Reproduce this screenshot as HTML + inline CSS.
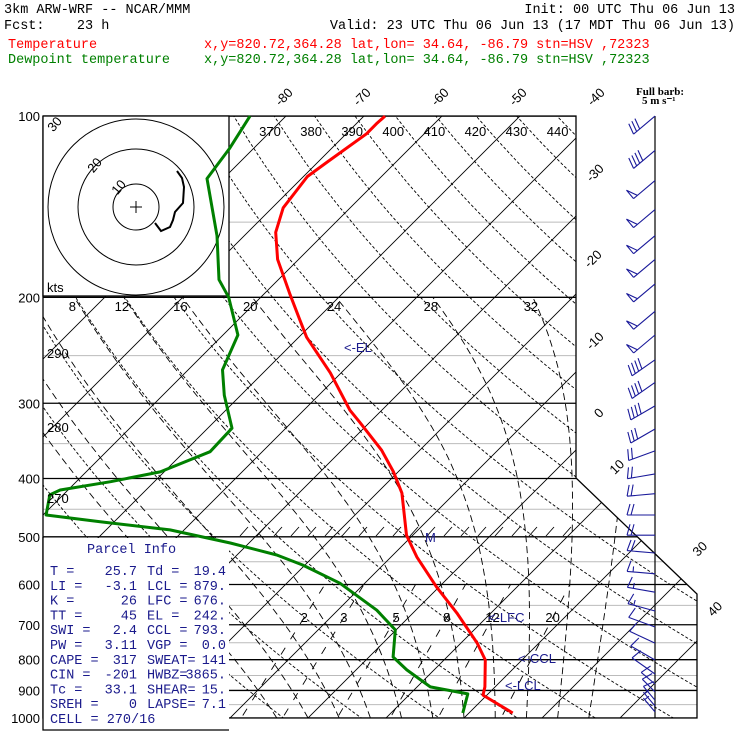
<!DOCTYPE html>
<html><head><meta charset="utf-8"><style>
html,body{margin:0;padding:0;background:#fff;}
svg{display:block;}
.hd{font-family:"Liberation Mono",monospace;font-size:13.5px;}
.lb{font-family:"Liberation Sans",sans-serif;font-size:13px;fill:#000;}
.pi{font-family:"Liberation Mono",monospace;font-size:13.5px;fill:#1a1a8c;}
</style></head><body>
<svg id="chart" width="740" height="740" viewBox="0 0 740 740" xmlns="http://www.w3.org/2000/svg">
<defs><clipPath id="plotClip"><polygon points="43,116 576,116 576,478 697,594 697,718 43,718"/></clipPath>
<clipPath id="insetClip"><rect x="42" y="115" width="187" height="181"/></clipPath></defs>
<g>
<text class="hd" x="4" y="13">3km ARW-WRF -- NCAR/MMM</text>
<text class="hd" x="735" y="13" text-anchor="end">Init: 00 UTC Thu 06 Jun 13</text>
<text class="hd" x="4" y="29" xml:space="preserve">Fcst:    23 h</text>
<text class="hd" x="735" y="29" text-anchor="end">Valid: 23 UTC Thu 06 Jun 13 (17 MDT Thu 06 Jun 13)</text>
<text class="hd" x="8" y="48" fill="#ff0000">Temperature</text>
<text class="hd" x="204" y="48" fill="#ff0000">x,y=820.72,364.28  lat,lon= 34.64, -86.79  stn=HSV ,72323</text>
<text class="hd" x="8" y="63" fill="#008000">Dewpoint temperature</text>
<text class="hd" x="204" y="63" fill="#008000">x,y=820.72,364.28  lat,lon= 34.64, -86.79  stn=HSV ,72323</text>
<text x="636" y="95" font-family="Liberation Serif,serif" font-weight="bold" font-size="11">Full barb:</text>
<text x="642" y="104" font-family="Liberation Serif,serif" font-weight="bold" font-size="11">5 m s⁻¹</text>
</g>
<g id="grid" clip-path="url(#plotClip)"></g>
<g id="fg"></g>
</svg>
<script>
const tempP=[100,103,107,119,126,142,156,173,197,218,233,267,308,323,359,390,423,497,540,606,669,751,801,888,916,981];
const tempT=[-67.3,-67.4,-67.4,-68.8,-69.5,-68.6,-66.4,-62.7,-56.8,-52.1,-49.0,-41.4,-34.1,-31.2,-24.9,-20.6,-16.8,-10.8,-6.7,-0.3,5.6,12.1,15.3,18.7,19.5,25.6];
const dewP=[100,113,127,158,187,200,231,264,291,330,361,390,405,418,426,460,472,487,512,536,557,597,662,714,792,832,888,912,981];
const dewT=[-84.6,-83.1,-82.1,-73.5,-67.6,-64.1,-58.1,-55.6,-52.1,-46.9,-46.7,-50.5,-55.6,-61.0,-61.7,-59.6,-51.8,-41.8,-32.4,-24.9,-20.3,-13.2,-5.0,-0.1,3.1,6.5,11.7,17.4,19.2];
const barbP=[100,114,128,143,158,173,190,211,231,254,277,303,331,360,393,424,460,497,532,576,618,664,706,751,801,845,878,905,934,955,977];
const barbDir=[230,230,230,230,230,230,230,230,230,235,235,240,240,250,260,265,270,270,275,275,280,285,290,295,300,305,310,315,320,320,320];
const barbSpd=[15,20,25,25,25,25,25,25,25,20,20,20,15,10,10,10,10,10,10,7.5,7.5,7.5,5,5,5,5,5,5,5,2.5,2.5];
const isobars=[100,150,200,250,300,350,400,450,500,550,600,650,700,750,800,850,900,950,1000];
const pLabels=[100,200,300,400,500,600,700,800,900,1000];
const isotherms=[-130,-120,-110,-100,-90,-80,-70,-60,-50,-40,-30,-20,-10,0,10,20,30,40,50];
const topTLabels=[-80,-70,-60,-50,-40];
const sideTLabels=[-30,-20,-10,0,10,30,40];
const sideTLabelY=[176,262,344,416,470,552,612];
const sideTLabelX=[598,596,598,602,620,703,718];
const thetas=[230,240,250,260,270,280,290,300,310,320,330,340,350,360,370,380,390,400,410,420,430,440,450,460,470,480];
const thetaTopLabels=[370,380,390,400,410,420,430,440];
const thetaLeftLabels=[290,280,270];
const thetaLeftY=[358,432,503];
const thetaW=[-4,0,4,8,12,16,20,24,28,32,36];
const thetaWLabels=[8,12,16,20,24,28,32];
const mixW=[2,3,5,8,12,20];

const NS='http://www.w3.org/2000/svg';
const yOf=p=>718-261.4*Math.log(1000/p);
const xOf=(T,p)=>308+7.8*T+(718-yOf(p));
function yToP(y){return 1000*Math.exp(-(718-y)/261.4);}
function mk(tag,attrs,parent){const e=document.createElementNS(NS,tag);for(const k in attrs)e.setAttribute(k,attrs[k]);parent.appendChild(e);return e;}
const grid=document.getElementById('grid');
const fg=document.getElementById('fg');

isobars.forEach(p=>{
  const y=yOf(p);const major=p%100===0;
  const l=mk('line',{x1:43,x2:700,y1:y,y2:y,stroke:major?'#000':'#bbb','stroke-width':major?1.3:1},grid);
  
  
});
isotherms.forEach(T=>{
  const l=mk('line',{x1:xOf(T,1050),y1:yOf(1050),x2:xOf(T,90),y2:yOf(90),stroke:'#000','stroke-width':0.9},grid);
  
  
});
thetas.forEach(th=>{
  let pts=[];for(let p=1050;p>=95;p-=10){const T=th*Math.pow(p/1000,0.2857)-273.15;pts.push(xOf(T,p).toFixed(1)+','+yOf(p).toFixed(1));}
  const l=mk('polyline',{points:pts.join(' '),fill:'none',stroke:'#000','stroke-width':0.9,'stroke-dasharray':'3,2'},grid);
  
  
});
function es(Tc){return 6.112*Math.exp(17.67*Tc/(Tc+243.5));}
const moistTop={};
thetaW.forEach(tw=>{
  let T=tw+273.15,p=1000;let pts=[xOf(tw,1000).toFixed(1)+','+yOf(1000).toFixed(1)];
  while(p>200){const e=es(T-273.15);const rs=0.622*e/(p-e);
    const d=(287*T+2.5e6*rs)/(p*(1005+2.5e6*2.5e6*rs*0.622/(287*T*T)));
    const dp=-2;T+=d*dp;p+=dp;
    if(Math.round(p)%10===0)pts.push(xOf(T-273.15,p).toFixed(1)+','+yOf(p).toFixed(1));}
  moistTop[tw]=xOf(T-273.15,p);
  const l=mk('polyline',{points:pts.join(' '),fill:'none',stroke:'#000','stroke-width':0.9,'stroke-dasharray':'7,4'},grid);
  
  
});
function tdOf(w,p){const e=w*p/(622+w);const a=Math.log(e/6.112);return 243.5*a/(17.67-a);}
mixW.forEach(w=>{
  const l=mk('line',{x1:xOf(tdOf(w,1050),1050),y1:yOf(1050),x2:xOf(tdOf(w,600),600),y2:yOf(600),stroke:'#000','stroke-width':0.9,'stroke-dasharray':'8,10'},grid);
  
  
});
for(let x=240;x<570;x+=17){const t=mk('line',{x1:x,y1:536,x2:x+8,y2:527,stroke:'#000','stroke-width':0.9},grid);
  
  }

const bd=mk('polyline',{points:'43,116 576,116 576,478 697,594 697,718 43,718 43,116',fill:'none',stroke:'#000','stroke-width':1.3},fg);



const ins=mk('rect',{x:43,y:116,width:186,height:180,fill:'#fff',stroke:'#000','stroke-width':1.3},fg);


const hg=mk('g',{'clip-path':'url(#insetClip)'},fg);
[23,58,88].forEach((r,i)=>{const c=mk('circle',{cx:136,cy:207,r:r,fill:'none',stroke:'#000','stroke-width':1},hg);
  
  });
[[10,122,190],[20,98,168],[30,58,127]].forEach(a=>{const t=mk('text',{x:a[1],y:a[2],class:'lb','font-size':'12',transform:'rotate(-50 '+a[1]+' '+a[2]+')','text-anchor':'middle'},hg);t.textContent=a[0];
  
  });
const cr=mk('path',{d:'M130,207H142M136,201V213',stroke:'#000','stroke-width':1},fg);


const hl=mk('polyline',{points:'155,223 161,231 170,227 173,220 175,212 183,203 184,187 182,178 177,171',fill:'none',stroke:'#000','stroke-width':2},fg);


const kts=mk('text',{x:47,y:292,class:'lb','font-size':'12'},fg);kts.textContent='kts';



const pb=mk('rect',{x:43,y:538,width:186,height:192,fill:'#fff'},fg);


mk('path',{d:'M43,537V730H229',fill:'none',stroke:'#000','stroke-width':1.3},fg);

function prof(P,T,col,name){const pts=P.map((p,i)=>xOf(T[i],p).toFixed(1)+','+yOf(p).toFixed(1));
  const l=mk('polyline',{points:pts.join(' '),fill:'none',stroke:col,'stroke-width':3,'stroke-linejoin':'round'},fg);
  
  }
prof(tempP,tempT,'#ff0000','temperature-profile');
prof(dewP,dewT,'#008000','dewpoint-profile');

pLabels.forEach(p=>{const t=mk('text',{x:40,y:yOf(p)+5,class:'lb','text-anchor':'end','font-size':'14'},fg);t.textContent=p;
  
  });
topTLabels.forEach(T=>{const x=xOf(T,yToP(95))-20,y=100;const t=mk('text',{x:x,y:y,class:'lb','font-size':'14','text-anchor':'middle',transform:'rotate(-45 '+x+' '+y+')'},fg);t.textContent=T;
  
  });
sideTLabels.forEach((T,i)=>{const x=sideTLabelX[i],y=sideTLabelY[i];const t=mk('text',{x:x,y:y,class:'lb','font-size':'14','text-anchor':'middle',transform:'rotate(-45 '+x+' '+y+')'},fg);t.textContent=T;
  
  });
thetaTopLabels.forEach(th=>{const p=106;const T=th*Math.pow(p/1000,0.2857)-273.15;const t=mk('text',{x:xOf(T,p)-14,y:136,class:'lb','text-anchor':'middle'},fg);t.textContent=th;
  
  });
thetaLeftLabels.forEach((th,i)=>{const t=mk('text',{x:47,y:thetaLeftY[i],class:'lb'},fg);t.textContent=th;
  
  });
thetaWLabels.forEach(tw=>{const t=mk('text',{x:moistTop[tw]-2,y:311,class:'lb','text-anchor':'middle'},fg);t.textContent=tw;
  
  });
mixW.forEach(w=>{const p=yToP(617);const t=mk('text',{x:xOf(tdOf(w,p),p),y:622,class:'lb','text-anchor':'middle'},fg);t.textContent=w;
  
  });

[['<-EL',344,352],['M',425,542],['<-LFC',488,622],['<-CCL',518,663],['<-LCL',505,690]].forEach(a=>{
  const t=mk('text',{x:a[1],y:a[2],class:'lb'},fg);t.textContent=a[0];t.setAttribute('style','fill:#1a1a8c');
  
  });

const rows=[['T  =','25.7','Td =','19.4'],['LI =','-3.1','LCL =','879.'],['K  =','26','LFC =','676.'],['TT =','45','EL  =','242.'],
['SWI =','2.4','CCL =','793.'],['PW =','3.11','VGP =','0.0'],['CAPE =','317','SWEAT=','141'],['CIN =','-201','HWBZ=','3865.'],
['Tc =','33.1','SHEAR=','15.'],['SREH =','0','LAPSE=','7.1']];
const ttl=mk('text',{x:87,y:553,class:'pi'},fg);ttl.textContent='Parcel Info';


rows.forEach((r,i)=>{const y=575+i*14.8;
  const a=mk('text',{x:50,y:y,class:'pi'},fg);a.textContent=r[0];
  
  
  const b=mk('text',{x:137,y:y,class:'pi','text-anchor':'end'},fg);b.textContent=r[1];
  
  
  const c=mk('text',{x:147,y:y,class:'pi'},fg);c.textContent=r[2];
  
  
  const d=mk('text',{x:226,y:y,class:'pi','text-anchor':'end'},fg);d.textContent=r[3];
  
  });
const cell=mk('text',{x:50,y:575+10*14.8,class:'pi'},fg);cell.textContent='CELL = 270/16';



const staff=mk('line',{x1:655,y1:116,x2:655,y2:718,stroke:'#000','stroke-width':1.2},fg);


barbP.forEach((p,i)=>{
  const y=yOf(p),th=barbDir[i]*Math.PI/180;const ux=Math.sin(th),uy=-Math.cos(th);
  const L=p>850?18:28;const tx=655+ux*L,ty=y+uy*L;const fx=-uy,fy=ux;
  let d='M655,'+y.toFixed(1)+'L'+tx.toFixed(1)+','+ty.toFixed(1);
  let s=barbSpd[i],pos=0;const F=11;
  while(s>=25){const bx=tx-ux*pos,by=ty-uy*pos;d+='M'+bx+','+by+'L'+(bx+fx*F)+','+(by+fy*F)+'L'+(bx-ux*5)+','+(by-uy*5);pos+=7;s-=25;}
  while(s>=5){const bx=tx-ux*pos,by=ty-uy*pos;d+='M'+bx+','+by+'L'+(bx+fx*F-ux*3)+','+(by+fy*F-uy*3);pos+=4;s-=5;}
  if(s>=2.5){const bx=tx-ux*(pos+2),by=ty-uy*(pos+2);d+='M'+bx+','+by+'L'+(bx+fx*F/2)+','+(by+fy*F/2);}
  const b=mk('path',{d:d,fill:'none',stroke:'#1a1a9a','stroke-width':1.1},fg);
  
  
});
</script>
</body></html>
